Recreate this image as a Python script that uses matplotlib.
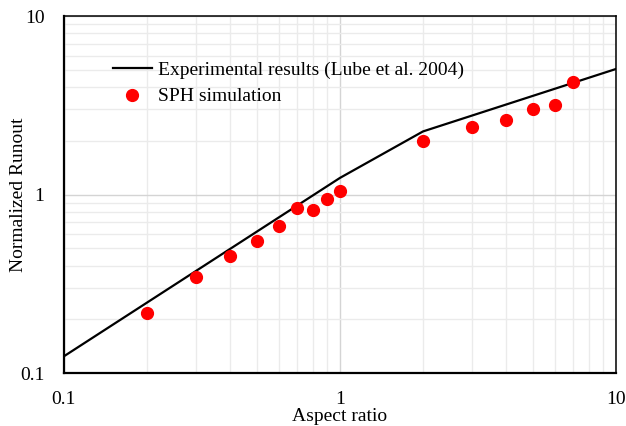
import matplotlib
matplotlib.use("Agg")
import matplotlib.pyplot as plt
from matplotlib.ticker import FixedLocator, FixedFormatter, NullFormatter

# Experimental curve (Lube et al. 2004)
exp_ratio = [0.1, 1.0, 2.0, 10.0]
exp_runout = [0.124, 1.24, 2.26, 5.06]

# SPH simulation points
sph_ratio = [0.2, 0.3, 0.4, 0.5, 0.6, 0.7, 0.8, 0.9, 1.0, 2.0, 3.0, 4.0, 5.0, 6.0, 7.0]
sph_runout = [0.217, 0.346, 0.454, 0.552, 0.668, 0.846, 0.824, 0.946, 1.05,
              1.99, 2.39, 2.61, 3.0, 3.18, 4.28]

tick_vals = [0.1, 1, 10]
tick_labels = ["0.1", "1", "10"]

plt.rcParams["font.family"] = ["Liberation Serif", "DejaVu Serif"]
plt.rcParams["font.size"] = 14

fig = plt.figure(figsize=(6.26, 4.26), dpi=100)
ax = fig.add_axes([0.102, 0.1244, 0.882, 0.8376])

ax.set_xscale("log")
ax.set_yscale("log")
ax.set_xlim(0.1, 10)
ax.set_ylim(0.1, 10)

minor = [m * d for d in (0.1, 1) for m in range(2, 10)]
ax.xaxis.set_major_locator(FixedLocator(tick_vals))
ax.xaxis.set_major_formatter(FixedFormatter(tick_labels))
ax.yaxis.set_major_locator(FixedLocator(tick_vals))
ax.yaxis.set_major_formatter(FixedFormatter(tick_labels))
ax.xaxis.set_minor_locator(FixedLocator(minor))
ax.yaxis.set_minor_locator(FixedLocator(minor))
ax.xaxis.set_minor_formatter(NullFormatter())
ax.yaxis.set_minor_formatter(NullFormatter())

ax.grid(which="major", color="#d4d4d4", linewidth=1.0)
ax.grid(which="minor", color="#ebebeb", linewidth=1.0)
ax.set_axisbelow(True)
ax.tick_params(which="both", length=0)
ax.tick_params(axis="x", pad=13)
ax.tick_params(axis="y", pad=14)

for side in ("left", "bottom"):
    ax.spines[side].set_linewidth(1.6)
for side in ("top", "right"):
    ax.spines[side].set_linewidth(1.1)

ax.plot(exp_ratio, exp_runout, color="black", linewidth=1.6,
        label="Experimental results (Lube et al. 2004)", zorder=3)
ax.plot(sph_ratio, sph_runout, linestyle="none", marker="o", markersize=8.5,
        color="#ff0000", label="SPH simulation", zorder=4)

ax.legend(loc="upper left", bbox_to_anchor=(0.075, 0.895), frameon=False,
          handlelength=2.0, handletextpad=0.3, labelspacing=0.45,
          borderaxespad=0, fontsize=14)

ax.set_xlabel("Aspect ratio", labelpad=0)
ax.set_ylabel("Normalized Runout")
ax.yaxis.set_label_coords(-0.066, 0.5)

fig.savefig("out.png", dpi=100)
